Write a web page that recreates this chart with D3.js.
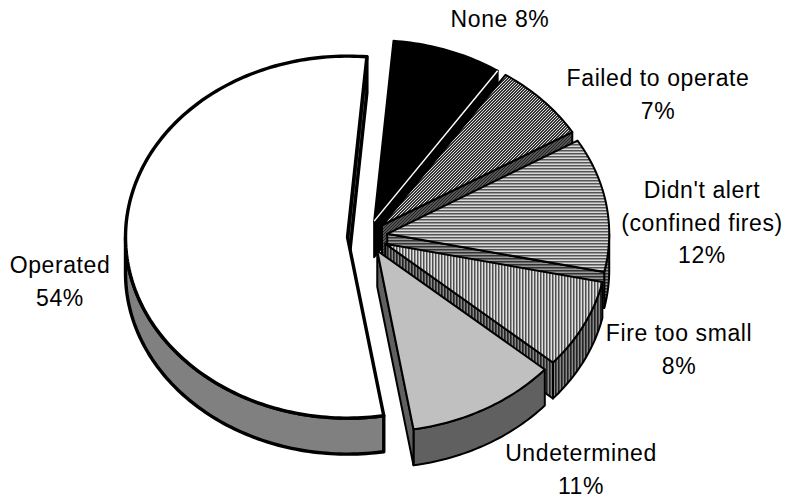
<!DOCTYPE html>
<html><head><meta charset="utf-8">
<script src="https://cdn.jsdelivr.net/npm/d3@7"></script>
<style>html,body{margin:0;padding:0;background:#fff}svg{display:block}text{font-family:"Liberation Sans",Arial,sans-serif;font-size:23px;letter-spacing:0.6px;fill:#000}</style>
</head><body><div id="c"></div>
<script>
const categories=["None","Failed to operate","Didn't alert (confined fires)","Fire too small","Undetermined","Operated"];
const values=[8,7,12,8,11,54];
const labelLines=[["None 8%"],["Failed to operate","7%"],["Didn't alert","(confined fires)","12%"],["Fire too small","8%"],["Undetermined","11%"],["Operated","54%"]];
const labelX=[500,658,702,679,581,60];
const labelY=[27,86,198,341,461,273];
const W=788,H=497,cx=367.5,cy=236.5,rx=222,ry=181,depth=36,explode=20,lineGap=32.5;
const svg=d3.select("#c").append("svg").attr("width",W).attr("height",H);
const defs=svg.append("defs");
function pat(id,w,h,bg,draw){const p=defs.append("pattern").attr("id",id).attr("patternUnits","userSpaceOnUse").attr("width",w).attr("height",h);
 p.append("rect").attr("width",w).attr("height",h).attr("fill",bg);draw(p);}
const px=(p,x,y,w,h,f)=>p.append("rect").attr("x",x).attr("y",y).attr("width",w).attr("height",h).attr("fill",f);
pat("diag",3,3,"#333",p=>{px(p,2,0,1,1,"#ddd");px(p,1,1,1,1,"#ddd");px(p,0,2,1,1,"#ddd");});
pat("diagD",3,3,"#555",p=>{px(p,2,0,1,1,"#222");px(p,1,1,1,1,"#222");px(p,0,2,1,1,"#222");});
pat("hor",3,3,"#d8d8d8",p=>px(p,0,0,3,1.5,"#555"));
pat("horD",3,3,"#999",p=>px(p,0,0,3,1.5,"#333"));
pat("ver",3,3,"#e0e0e0",p=>px(p,0,0,1.5,3,"#505050"));
pat("verD",3,3,"#888",p=>px(p,0,0,1.6,3,"#222"));
const topFill=["#000","url(#diag)","url(#hor)","url(#ver)","#c0c0c0","#fff"];
const sideFill=["#000","url(#diagD)","url(#horD)","url(#verD)","#606060","#808080"];
const strokeW=[2,2,2,2,2,3.4];
const pie=d3.pie().sort(null).startAngle(5*Math.PI/180).endAngle(365*Math.PI/180);
const arcs=pie(values);
const xs=d3.scaleLinear().domain([-1,1]).range([-rx,rx]);
const ys=d3.scaleLinear().domain([-1,1]).range([-ry,ry]);
const line=d3.line().curve(d3.curveLinear);
function arcPts(a0,a1,c,dy){const n=Math.max(2,Math.ceil(Math.abs(a1-a0)/0.02));
 return d3.range(n+1).map(i=>{const t=a0+(a1-a0)*i/n;return [c[0]+xs(Math.sin(t)),c[1]+dy+ys(-Math.cos(t))];});}
arcs.forEach((d,i)=>{
 const mid=(d.startAngle+d.endAngle)/2;
 const c=[cx+explode*Math.sin(mid),cy-explode*Math.cos(mid)*ry/rx];
 const g=svg.append("g");
 const add=(pts,fill)=>g.append("path").attr("d",line(pts)+"Z").attr("fill",fill).attr("stroke","#000").attr("stroke-width",strokeW[i]).attr("stroke-linejoin","round");
 const top=arcPts(d.startAngle,d.endAngle,c,0);
 const wall=a=>{const e=[c[0]+xs(Math.sin(a)),c[1]+ys(-Math.cos(a))];
   add([c,e,[e[0],e[1]+depth],[c[0],c[1]+depth]],sideFill[i]);};
 const a0=Math.max(d.startAngle,Math.PI/2),a1=Math.min(d.endAngle,3*Math.PI/2);
 if(a0<a1) add(arcPts(a0,a1,c,0).concat(arcPts(a0,a1,c,depth).reverse()),sideFill[i]);
 if(Math.sin(d.endAngle)>0) wall(d.endAngle);
 if(Math.sin(d.startAngle)<0) wall(d.startAngle);
 add([c].concat(top),topFill[i]);
 if(i===0){const e=top[top.length-1];g.append("line").attr("x1",c[0]).attr("y1",c[1]).attr("x2",e[0]).attr("y2",e[1]).attr("stroke","#fff").attr("stroke-width",1.5);}
});
labelLines.forEach((ls,i)=>{ls.forEach((s,j)=>{svg.append("text").attr("x",labelX[i]).attr("y",labelY[i]+j*lineGap).attr("text-anchor","middle").text(s);});});
</script></body></html>
